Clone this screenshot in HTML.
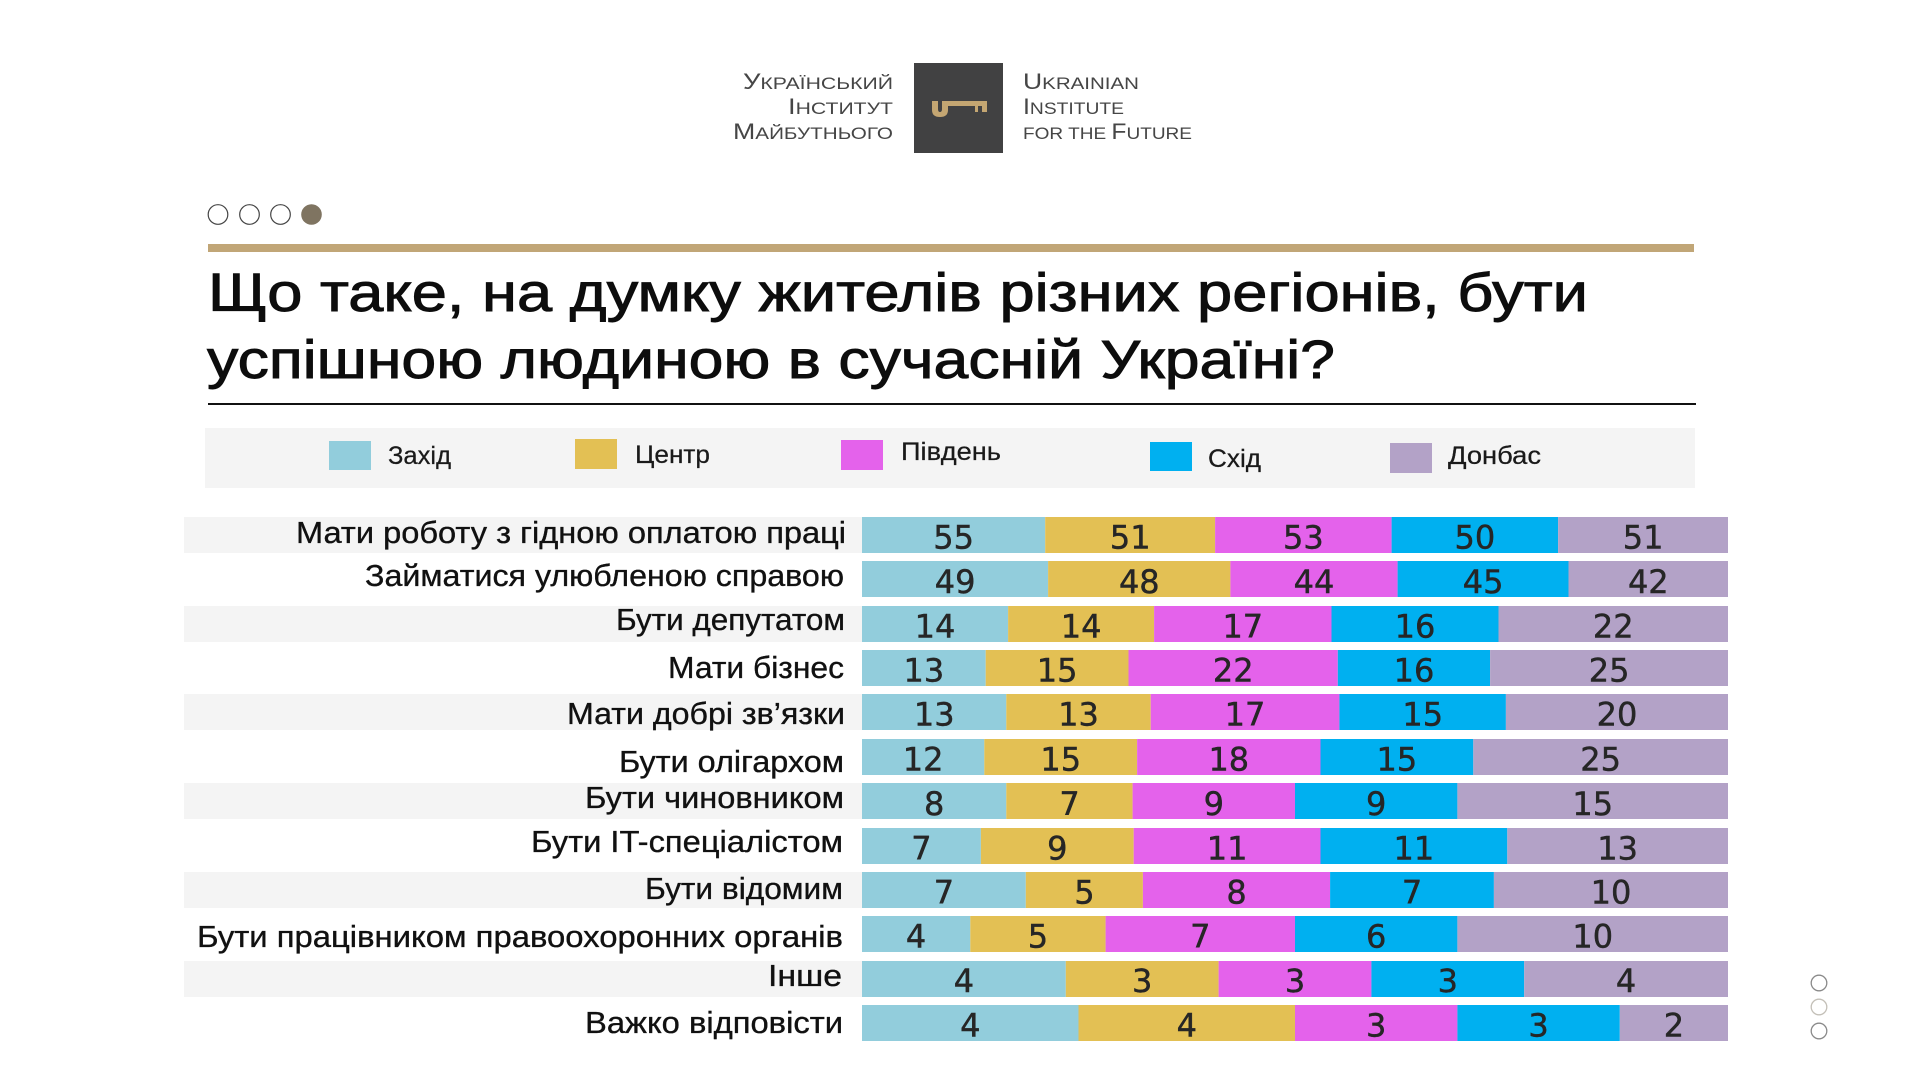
<!DOCTYPE html>
<html>
<head>
<meta charset="utf-8">
<style>
html,body{margin:0;padding:0;background:#fff;}
svg{display:block;}
.lbl{font-family:"Liberation Sans","DejaVu Sans",sans-serif;font-size:31px;fill:#111;stroke:#111;stroke-width:0.35px;}
.num{font-family:"DejaVu Sans","Liberation Sans",sans-serif;font-size:32px;fill:#262626;stroke:#262626;stroke-width:0.45px;text-anchor:middle;}
.leg{font-family:"Liberation Sans","DejaVu Sans",sans-serif;font-size:25px;fill:#1a1a1a;stroke:#1a1a1a;stroke-width:0.25px;}
.ttl{font-family:"Liberation Sans","DejaVu Sans",sans-serif;font-size:54px;fill:#0d0d0d;stroke:#0d0d0d;stroke-width:0.9px;}
.logo{font-family:"Liberation Sans","DejaVu Sans",sans-serif;fill:#464646;}
</style>
</head>
<body>
<svg width="1920" height="1080" viewBox="0 0 1920 1080" xmlns="http://www.w3.org/2000/svg">
<rect x="0" y="0" width="1920" height="1080" fill="#fff"/>

<!-- Logo -->
<text class="logo" x="743" y="89" textLength="150" lengthAdjust="spacingAndGlyphs"><tspan font-size="22">У</tspan><tspan font-size="17">КРАЇНСЬКИЙ</tspan></text>
<text class="logo" x="788" y="114" textLength="105" lengthAdjust="spacingAndGlyphs"><tspan font-size="22">І</tspan><tspan font-size="17">НСТИТУТ</tspan></text>
<text class="logo" x="733" y="139" textLength="160" lengthAdjust="spacingAndGlyphs"><tspan font-size="22">М</tspan><tspan font-size="17">АЙБУТНЬОГО</tspan></text>
<rect x="914" y="63" width="89" height="90" fill="#414142"/>
<path d="M932,101 H938 V109 Q938,112 940,112 Q942,112 942,109 V101 H948 V110 Q948,117 940,117 Q932,117 932,110 Z" fill="#c4a672"/>
<rect x="946" y="101" width="41" height="5" fill="#c4a672"/>
<rect x="975" y="101" width="3" height="11" fill="#c4a672"/>
<rect x="982" y="101" width="5" height="11" fill="#c4a672"/>
<text class="logo" x="1023" y="89" textLength="116" lengthAdjust="spacingAndGlyphs"><tspan font-size="22">U</tspan><tspan font-size="17">KRAINIAN</tspan></text>
<text class="logo" x="1023" y="114" textLength="101" lengthAdjust="spacingAndGlyphs"><tspan font-size="22">I</tspan><tspan font-size="17">NSTITUTE</tspan></text>
<text class="logo" x="1023" y="139" textLength="169" lengthAdjust="spacingAndGlyphs"><tspan font-size="17">FOR THE </tspan><tspan font-size="22">F</tspan><tspan font-size="17">UTURE</tspan></text>

<!-- pager dots -->
<circle cx="218" cy="214.5" r="9.8" fill="#fff" stroke="#444" stroke-width="1.2"/>
<circle cx="249.5" cy="214.5" r="9.8" fill="#fff" stroke="#444" stroke-width="1.2"/>
<circle cx="280.5" cy="214.5" r="9.8" fill="#fff" stroke="#444" stroke-width="1.2"/>
<circle cx="311.5" cy="214.5" r="10.3" fill="#7f7461"/>

<!-- gold bar -->
<rect x="208" y="244" width="1486" height="8" fill="#c1a677"/>

<!-- title -->
<text class="ttl" x="208" y="311" textLength="1380" lengthAdjust="spacingAndGlyphs">Що таке, на думку жителів різних регіонів, бути</text>
<text class="ttl" x="207" y="378" textLength="1128" lengthAdjust="spacingAndGlyphs">успішною людиною в сучасній Україні?</text>

<rect x="208" y="403" width="1488" height="2" fill="#111"/>

<!-- legend -->
<rect x="205" y="428" width="1490" height="60" fill="#f4f4f4"/>
<rect x="329" y="441" width="42" height="29" fill="#92cddc"/>
<text class="leg" x="388" y="464" textLength="63" lengthAdjust="spacingAndGlyphs">Захід</text>
<rect x="575" y="439" width="42" height="30" fill="#e3c054"/>
<text class="leg" x="635" y="463" textLength="75" lengthAdjust="spacingAndGlyphs">Центр</text>
<rect x="841" y="440" width="42" height="30" fill="#e462eb"/>
<text class="leg" x="901" y="460" textLength="100" lengthAdjust="spacingAndGlyphs">Південь</text>
<rect x="1150" y="442" width="42" height="29" fill="#00b0f0"/>
<text class="leg" x="1208" y="467" textLength="53" lengthAdjust="spacingAndGlyphs">Схід</text>
<rect x="1390" y="443" width="42" height="30" fill="#b3a2c7"/>
<text class="leg" x="1448" y="464" textLength="93" lengthAdjust="spacingAndGlyphs">Донбас</text>

<!-- label backgrounds (alternating) -->
<g fill="#f4f4f4">
<rect x="184" y="517" width="678" height="36"/>
<rect x="184" y="606" width="678" height="36"/>
<rect x="184" y="694" width="678" height="36"/>
<rect x="184" y="783" width="678" height="36"/>
<rect x="184" y="872" width="678" height="36"/>
<rect x="184" y="961" width="678" height="36"/>
</g>

<!-- labels -->
<text class="lbl" x="296" y="543" textLength="550" lengthAdjust="spacingAndGlyphs">Мати роботу з гідною оплатою праці</text>
<text class="lbl" x="365" y="586" textLength="479" lengthAdjust="spacingAndGlyphs">Займатися улюбленою справою</text>
<text class="lbl" x="616" y="630" textLength="229" lengthAdjust="spacingAndGlyphs">Бути депутатом</text>
<text class="lbl" x="668" y="678" textLength="176" lengthAdjust="spacingAndGlyphs">Мати бізнес</text>
<text class="lbl" x="567" y="724" textLength="278" lengthAdjust="spacingAndGlyphs">Мати добрі зв’язки</text>
<text class="lbl" x="619" y="772" textLength="225" lengthAdjust="spacingAndGlyphs">Бути олігархом</text>
<text class="lbl" x="585" y="808" textLength="259" lengthAdjust="spacingAndGlyphs">Бути чиновником</text>
<text class="lbl" x="531" y="852" textLength="312" lengthAdjust="spacingAndGlyphs">Бути IT-спеціалістом</text>
<text class="lbl" x="645" y="899" textLength="198" lengthAdjust="spacingAndGlyphs">Бути відомим</text>
<text class="lbl" x="197" y="947" textLength="646" lengthAdjust="spacingAndGlyphs">Бути працівником правоохоронних органів</text>
<text class="lbl" x="768" y="986" textLength="74" lengthAdjust="spacingAndGlyphs">Інше</text>
<text class="lbl" x="585" y="1033" textLength="258" lengthAdjust="spacingAndGlyphs">Важко відповісти</text>

<!-- bars -->
<!-- Row 1 -->
<rect x="862" y="517" width="183.2" height="36" fill="#92cddc"/>
<rect x="1045.2" y="517" width="169.9" height="36" fill="#e3c054"/>
<rect x="1215.1" y="517" width="176.5" height="36" fill="#e462eb"/>
<rect x="1391.6" y="517" width="166.5" height="36" fill="#00b0f0"/>
<rect x="1558.1" y="517" width="169.9" height="36" fill="#b3a2c7"/>
<!-- Row 2 -->
<rect x="862" y="561" width="186.1" height="36" fill="#92cddc"/>
<rect x="1048.1" y="561" width="182.3" height="36" fill="#e3c054"/>
<rect x="1230.4" y="561" width="167.2" height="36" fill="#e462eb"/>
<rect x="1397.6" y="561" width="170.9" height="36" fill="#00b0f0"/>
<rect x="1568.5" y="561" width="159.5" height="36" fill="#b3a2c7"/>
<!-- Row 3 -->
<rect x="862" y="606" width="146.1" height="36" fill="#92cddc"/>
<rect x="1008.1" y="606" width="146" height="36" fill="#e3c054"/>
<rect x="1154.1" y="606" width="177.4" height="36" fill="#e462eb"/>
<rect x="1331.5" y="606" width="167" height="36" fill="#00b0f0"/>
<rect x="1498.5" y="606" width="229.5" height="36" fill="#b3a2c7"/>
<!-- Row 4 -->
<rect x="862" y="650" width="123.7" height="36" fill="#92cddc"/>
<rect x="985.7" y="650" width="142.8" height="36" fill="#e3c054"/>
<rect x="1128.5" y="650" width="209.3" height="36" fill="#e462eb"/>
<rect x="1337.8" y="650" width="152.3" height="36" fill="#00b0f0"/>
<rect x="1490.1" y="650" width="237.9" height="36" fill="#b3a2c7"/>
<!-- Row 5 -->
<rect x="862" y="694" width="144.3" height="36" fill="#92cddc"/>
<rect x="1006.3" y="694" width="144.4" height="36" fill="#e3c054"/>
<rect x="1150.7" y="694" width="188.7" height="36" fill="#e462eb"/>
<rect x="1339.4" y="694" width="166.5" height="36" fill="#00b0f0"/>
<rect x="1505.9" y="694" width="222.1" height="36" fill="#b3a2c7"/>
<!-- Row 6 -->
<rect x="862" y="739" width="122.3" height="36" fill="#92cddc"/>
<rect x="984.3" y="739" width="152.8" height="36" fill="#e3c054"/>
<rect x="1137.1" y="739" width="183.4" height="36" fill="#e462eb"/>
<rect x="1320.5" y="739" width="152.8" height="36" fill="#00b0f0"/>
<rect x="1473.3" y="739" width="254.7" height="36" fill="#b3a2c7"/>
<!-- Row 7 -->
<rect x="862" y="783" width="144.3" height="36" fill="#92cddc"/>
<rect x="1006.3" y="783" width="126.3" height="36" fill="#e3c054"/>
<rect x="1132.6" y="783" width="162.4" height="36" fill="#e462eb"/>
<rect x="1295" y="783" width="162.4" height="36" fill="#00b0f0"/>
<rect x="1457.4" y="783" width="270.6" height="36" fill="#b3a2c7"/>
<!-- Row 8 -->
<rect x="862" y="828" width="118.9" height="36" fill="#92cddc"/>
<rect x="980.9" y="828" width="152.8" height="36" fill="#e3c054"/>
<rect x="1133.7" y="828" width="186.8" height="36" fill="#e462eb"/>
<rect x="1320.5" y="828" width="186.8" height="36" fill="#00b0f0"/>
<rect x="1507.3" y="828" width="220.7" height="36" fill="#b3a2c7"/>
<!-- Row 9 -->
<rect x="862" y="872" width="163.8" height="36" fill="#92cddc"/>
<rect x="1025.8" y="872" width="117.1" height="36" fill="#e3c054"/>
<rect x="1142.9" y="872" width="187.2" height="36" fill="#e462eb"/>
<rect x="1330.1" y="872" width="163.8" height="36" fill="#00b0f0"/>
<rect x="1493.9" y="872" width="234.1" height="36" fill="#b3a2c7"/>
<!-- Row 10 -->
<rect x="862" y="916" width="108.3" height="36" fill="#92cddc"/>
<rect x="970.3" y="916" width="135.3" height="36" fill="#e3c054"/>
<rect x="1105.6" y="916" width="189.4" height="36" fill="#e462eb"/>
<rect x="1295" y="916" width="162.4" height="36" fill="#00b0f0"/>
<rect x="1457.4" y="916" width="270.6" height="36" fill="#b3a2c7"/>
<!-- Row 11 -->
<rect x="862" y="961" width="203.8" height="36" fill="#92cddc"/>
<rect x="1065.8" y="961" width="152.8" height="36" fill="#e3c054"/>
<rect x="1218.6" y="961" width="152.8" height="36" fill="#e462eb"/>
<rect x="1371.4" y="961" width="152.8" height="36" fill="#00b0f0"/>
<rect x="1524.2" y="961" width="203.8" height="36" fill="#b3a2c7"/>
<!-- Row 12 -->
<rect x="862" y="1005" width="216.5" height="36" fill="#92cddc"/>
<rect x="1078.5" y="1005" width="216.5" height="36" fill="#e3c054"/>
<rect x="1295" y="1005" width="162.4" height="36" fill="#e462eb"/>
<rect x="1457.4" y="1005" width="162.4" height="36" fill="#00b0f0"/>
<rect x="1619.8" y="1005" width="108.2" height="36" fill="#b3a2c7"/>

<!-- numbers -->
<text class="num" x="953.6" y="548.5">55</text>
<text class="num" x="1130.2" y="548.5">51</text>
<text class="num" x="1303.4" y="548.5">53</text>
<text class="num" x="1474.9" y="548.5">50</text>
<text class="num" x="1643.1" y="548.5">51</text>

<text class="num" x="955.1" y="593">49</text>
<text class="num" x="1139.3" y="593">48</text>
<text class="num" x="1314" y="593">44</text>
<text class="num" x="1483.1" y="593">45</text>
<text class="num" x="1648.3" y="593">42</text>

<text class="num" x="935" y="637.5">14</text>
<text class="num" x="1081.1" y="637.5">14</text>
<text class="num" x="1242.8" y="637.5">17</text>
<text class="num" x="1415" y="637.5">16</text>
<text class="num" x="1613.2" y="637.5">22</text>

<text class="num" x="923.9" y="681.5">13</text>
<text class="num" x="1057.1" y="681.5">15</text>
<text class="num" x="1233.2" y="681.5">22</text>
<text class="num" x="1414" y="681.5">16</text>
<text class="num" x="1609.1" y="681.5">25</text>

<text class="num" x="934.2" y="725.5">13</text>
<text class="num" x="1078.5" y="725.5">13</text>
<text class="num" x="1245" y="725.5">17</text>
<text class="num" x="1422.7" y="725.5">15</text>
<text class="num" x="1617" y="725.5">20</text>

<text class="num" x="923.1" y="770.5">12</text>
<text class="num" x="1060.7" y="770.5">15</text>
<text class="num" x="1228.8" y="770.5">18</text>
<text class="num" x="1396.9" y="770.5">15</text>
<text class="num" x="1600.6" y="770.5">25</text>

<text class="num" x="934.2" y="815">8</text>
<text class="num" x="1069.5" y="815">7</text>
<text class="num" x="1213.8" y="815">9</text>
<text class="num" x="1376.2" y="815">9</text>
<text class="num" x="1592.7" y="815">15</text>

<text class="num" x="921.4" y="859.5">7</text>
<text class="num" x="1057.3" y="859.5">9</text>
<text class="num" x="1227.1" y="859.5">11</text>
<text class="num" x="1413.9" y="859.5">11</text>
<text class="num" x="1617.6" y="859.5">13</text>

<text class="num" x="943.9" y="903.5">7</text>
<text class="num" x="1084.4" y="903.5">5</text>
<text class="num" x="1236.5" y="903.5">8</text>
<text class="num" x="1412" y="903.5">7</text>
<text class="num" x="1611" y="903.5">10</text>

<text class="num" x="916.1" y="947.5">4</text>
<text class="num" x="1037.9" y="947.5">5</text>
<text class="num" x="1200.3" y="947.5">7</text>
<text class="num" x="1376.2" y="947.5">6</text>
<text class="num" x="1592.7" y="947.5">10</text>

<text class="num" x="963.9" y="992">4</text>
<text class="num" x="1142.2" y="992">3</text>
<text class="num" x="1295" y="992">3</text>
<text class="num" x="1447.8" y="992">3</text>
<text class="num" x="1626.1" y="992">4</text>

<text class="num" x="970.3" y="1036.5">4</text>
<text class="num" x="1186.8" y="1036.5">4</text>
<text class="num" x="1376.2" y="1036.5">3</text>
<text class="num" x="1538.6" y="1036.5">3</text>
<text class="num" x="1673.9" y="1036.5">2</text>

<!-- right side nav dots -->
<circle cx="1819" cy="983" r="7.8" fill="#fff" stroke="#8a8a8a" stroke-width="1.3"/>
<circle cx="1819" cy="1007" r="7.8" fill="#fff" stroke="#c4c0b8" stroke-width="1.3"/>
<circle cx="1819" cy="1031" r="7.8" fill="#fff" stroke="#8a8a8a" stroke-width="1.3"/>
</svg>
</body>
</html>
